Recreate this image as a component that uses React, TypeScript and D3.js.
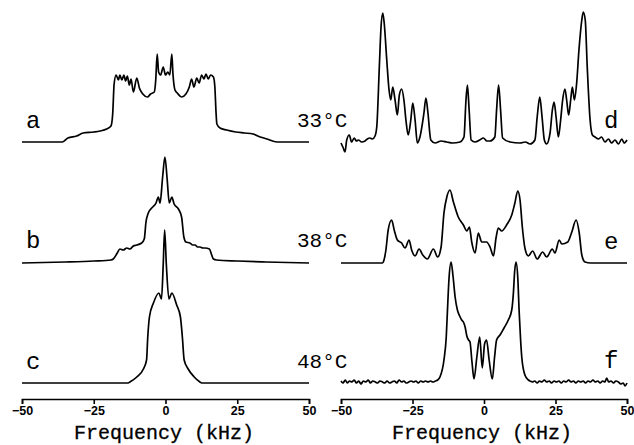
import React, { useRef, useEffect } from 'react';
import * as d3 from 'd3';

// frequency axis ticks (kHz)
const freqTicks = [-50, -25, 0, 25, 50];
const leftLabels = ['a', 'b', 'c'];
const rightLabels = ['d', 'e', 'f'];
const temps = ['33°C', '38°C', '48°C'];

// spectra as [kHz, intensity]
const specA: [number, number][] = [
  [-50, 0], [-36, 0], [-34, 4], [-31, 6], [-28.7, 9], [-25, 10], [-22.8, 11], [-20.5, 13], [-19, 16],
  [-18.4, 28], [-17.9, 58], [-17.2, 67], [-16.4, 62], [-15.9, 67], [-15.2, 62], [-14.5, 67], [-13.9, 61],
  [-13.3, 66], [-12.6, 57], [-12.0, 63], [-11.2, 50], [-10.0, 64], [-9.1, 54], [-7.9, 48], [-6.3, 45],
  [-5.2, 48], [-3.9, 50], [-3.4, 62], [-2.9, 88], [-2.4, 70], [-1.7, 67], [-0.8, 75], [0, 67], [0.8, 70],
  [1.5, 67], [2.2, 88], [2.6, 68], [3.3, 52], [4.1, 49], [5.6, 45], [7.1, 48], [8.3, 55], [9.1, 63],
  [9.9, 55], [10.9, 64], [11.7, 59], [12.6, 67], [13.4, 63], [14.1, 68], [14.9, 63], [15.7, 67], [16.7, 65],
  [17.2, 55], [17.6, 30], [17.9, 18], [19, 14], [21.3, 12], [24.5, 10], [27.5, 9], [30.5, 8], [33, 5],
  [35.4, 3], [38.8, 0], [50, 0]
];

const specB: [number, number][] = [
  [-50, -1], [-35, 0], [-25, 1], [-19, 2], [-18.2, 3], [-16.8, 9], [-15.9, 13], [-14.7, 12], [-13.5, 14],
  [-12.4, 13], [-11.2, 16], [-10, 17], [-8.3, 19], [-7.4, 23], [-6.8, 40], [-6, 49], [-4.8, 54], [-3.3, 59],
  [-2.5, 65], [-1.9, 59], [-1, 85], [-0.2, 105], [0.6, 82], [1.3, 59], [2.2, 65], [3, 58], [4.5, 53],
  [5.6, 45], [6.4, 25], [7.1, 20], [8.5, 19], [9.5, 17], [10.3, 17], [11.2, 15], [12, 15], [13, 14],
  [13.8, 14], [15.3, 13], [16.1, 7], [16.7, 3], [17.8, 2], [25, 1], [35, 0], [50, -1]
];

const specC: [number, number][] = [
  [-50, 0], [-13, 0], [-12.4, 1], [-10, 6], [-7.7, 14], [-6.6, 23], [-6.2, 45], [-5.6, 66], [-4.2, 80],
  [-2.3, 90], [-1.4, 84], [-0.8, 118], [-0.3, 153], [0.3, 118], [1.2, 84], [2.2, 90], [3.9, 78],
  [5.2, 66], [5.9, 45], [6.5, 23], [7.9, 14], [10, 6], [12, 1], [12.6, 0], [50, 0]
];

const specD: [number, number][] = [
  [-50, -1], [-49.2, -6], [-48.6, -10], [-48, 2], [-47.1, 7], [-46.3, 0], [-45.4, 4], [-44.6, 1],
  [-43.9, 2], [-42.8, 0], [-41.6, 1], [-40.8, 3], [-39.9, 4], [-39, 3], [-38.1, 6], [-37.5, 15],
  [-36.6, 75], [-36, 115], [-35.4, 129], [-34.9, 119], [-34, 82], [-33.2, 52], [-32.6, 42], [-31.9, 55],
  [-31.1, 42], [-30.3, 27], [-29.6, 47], [-28.8, 53], [-28, 42], [-27.3, 22], [-26.5, 7], [-25.6, 22],
  [-24.9, 39], [-24.1, 22], [-23.3, -1], [-22.4, 5], [-21, 29], [-20.3, 44], [-19.6, 29], [-18.6, 2],
  [-17.1, -1], [-15, 1], [-13, 0], [-11, -1], [-8.4, 0], [-7, 5], [-6.3, 42], [-5.8, 57], [-5.2, 32],
  [-4.5, 2], [-3.1, 0], [-1.5, 2], [-0.2, 4], [1, 1], [2.1, 1], [3.8, 5], [4.4, 32], [5.1, 57],
  [5.8, 32], [6.5, 4], [9.1, 0], [12.6, -1], [14.5, 0], [16.1, -2], [17.8, 2], [18.6, 25], [19.5, 45],
  [20.3, 25], [21.1, 2], [21.9, -2], [23.1, 9], [23.9, 32], [24.5, 40], [25.2, 25], [26, 5], [26.8, 22],
  [27.5, 42], [28.3, 53], [28.9, 42], [29.6, 27], [30.3, 42], [30.9, 55], [31.6, 42], [32.4, 59],
  [33.2, 92], [34.2, 122], [34.7, 130], [35.4, 122], [36.1, 75], [37.1, 22], [37.9, 7], [38.8, 5],
  [40, 3], [41.1, 5], [42.3, 0], [43.5, 3], [44.6, -1], [45.8, 2], [47, -2], [48.2, 3], [49, -1], [50, 2]
];

const specE: [number, number][] = [
  [-50, 0], [-40, 0], [-35.5, 0], [-35.2, 1], [-34.3, 13], [-33.5, 33], [-32.3, 43], [-31.4, 33],
  [-30.3, 23], [-28.8, 20], [-27.6, 15], [-26.2, 23], [-25.3, 13], [-24.1, 7], [-22.7, 14], [-21.4, 8],
  [-19.8, 4], [-17.7, 14], [-16.2, 6], [-15, 16], [-14, 50], [-13, 66], [-11.9, 73], [-10.7, 61],
  [-9, 46], [-7.2, 38], [-6, 32], [-5.1, 36], [-4.3, 21], [-3.1, 10], [-2, 30], [-0.8, 21], [0.9, 21],
  [2.1, 16], [3.3, 7], [4.2, 25], [5, 35], [6.2, 32], [7.9, 38], [9.7, 48], [10.8, 60], [11.8, 72],
  [12.6, 63], [13.4, 36], [14.3, 15], [15.5, 7], [17, 12], [18.6, 4], [20.5, 11], [21.9, 6], [23.9, 14],
  [24.8, 10], [26.3, 23], [27.2, 19], [29.3, 21], [30.7, 31], [32.2, 43], [33.3, 30], [34.2, 8],
  [35.3, 1], [37.3, 0], [50, 0]
];

const specF: [number, number][] = [
  [-50, 1], [-49.3, -1], [-48.5, 2], [-47.8, -1], [-47, 1], [-46.2, 0], [-45.4, 2], [-44.6, -1],
  [-43.8, 1], [-43, -2], [-42.2, 1], [-41.3, 0], [-40.5, 2], [-39.7, -1], [-38.9, 1], [-38, 0],
  [-37.2, -1], [-36.4, 1], [-35.5, 0], [-34.7, -1], [-33.9, 1], [-33, -1], [-32.2, 0], [-31.3, 1],
  [-30.5, -1], [-29.7, 2], [-28.8, 0], [-28, 1], [-27.2, -1], [-26.3, 0], [-25.5, 1], [-24.6, 0],
  [-23.8, 1], [-23, -1], [-22.1, 1], [-21.3, 0], [-20.4, 1], [-19.6, 0], [-18.7, 1], [-17.9, 0],
  [-17, 1], [-16.2, 2], [-15.4, 5], [-14, 22], [-13.2, 45], [-12.8, 70], [-12.2, 105], [-11.5, 120],
  [-10.8, 105], [-10.1, 85], [-9.3, 72], [-8.5, 66], [-7.8, 62], [-7.2, 60], [-6.6, 55], [-6, 46],
  [-5.4, 42], [-4.9, 40], [-4.2, 20], [-3.5, 3], [-2.5, 25], [-1.5, 45], [-0.6, 14], [0.2, 38],
  [0.9, 42], [1.8, 22], [2.9, 3], [3.7, 25], [4.4, 42], [5.6, 47], [7, 54], [8.5, 62], [9.7, 72],
  [10.3, 90], [10.7, 110], [11.2, 120], [11.8, 105], [12.3, 70], [12.8, 42], [13.2, 25], [14.3, 7],
  [15.5, 2], [16.1, 1], [16.9, 0], [17.7, 1], [18.6, -1], [19.4, 1], [20.2, 0], [21.1, 2], [21.9, 0],
  [22.8, 1], [23.6, -1], [24.5, 1], [25.3, 0], [26.2, 1], [27, -1], [27.9, 1], [28.7, 0], [29.6, 2],
  [30.4, 0], [31.3, 1], [32.1, -1], [33, 1], [33.8, 0], [34.7, 1], [35.5, -1], [36.4, 1], [37.2, 0],
  [38.1, 2], [38.9, 0], [39.8, 1], [40.6, -1], [41.5, 1], [42.3, 0], [42.9, 4], [43.6, 0], [44.4, 1],
  [45.3, -1], [46.1, 1], [47, 0], [47.8, -2], [48.7, -1], [49.3, -4], [50, -1]
];

const leftSpectra = [specA, specB, specC];
const rightSpectra = [specD, specE, specF];
const baselines = [142, 262, 383];
const rightBaselines = [142, 263, 382];

const W = 634;
const H = 445;
const axisY = 399;

const Axis = ({ scale }: { scale: d3.ScaleLinear<number, number> }) => {
  const gRef = useRef<SVGGElement>(null);
  useEffect(() => {
    const g = d3.select(gRef.current);
    g.call(d3.axisBottom(scale).tickValues(freqTicks).tickSizeOuter(0).tickSize(5).tickPadding(2)
      .tickFormat(d3.format('d')) as any);
    g.select('.domain').attr('stroke-width', 1.6);
    g.selectAll('.tick line').attr('stroke-width', 1.6);
    g.selectAll('.tick text')
      .attr('font-family', '"Liberation Sans", Arial, sans-serif')
      .attr('font-weight', 'bold')
      .attr('font-size', 12.5)
      .attr('fill', '#000');
  }, [scale]);
  return <g ref={gRef} transform={`translate(0,${axisY})`} />;
};

const Panel = ({ x0, x1, spectra, bases, titleX }: any) => {
  const x = d3.scaleLinear().domain([-50, 50]).range([x0, x1]);
  return (
    <g>
      {spectra.map((s: [number, number][], i: number) => {
        const y = d3.scaleLinear().domain([0, 100]).range([bases[i], bases[i] - 100]);
        const line = d3.line<[number, number]>()
          .x(d => x(d[0]))
          .y(d => y(d[1]))
          .curve(d3.curveMonotoneX);
        return <path key={i} d={line(s) || ''} fill="none" stroke="#000" strokeWidth={1.7} strokeLinejoin="round" />;
      })}
      <Axis scale={x} />
      <text x={titleX} y={439} textAnchor="middle" fontFamily='"Liberation Mono", "Courier New", monospace'
        fontSize={20} stroke="#000" strokeWidth={0.3}>Frequency (kHz)</text>
    </g>
  );
};

export default function App() {
  const labelFont = '"Liberation Mono", "Courier New", monospace';
  return (
    <svg width={W} height={H} style={{ position: 'absolute', left: 0, top: 0, background: '#fff' }}>
      <Panel x0={22} x1={309} spectra={leftSpectra} bases={baselines} titleX={164} />
      <Panel x0={341} x1={627} spectra={rightSpectra} bases={rightBaselines} titleX={482} />
      {leftLabels.map((l, i) => (
        <text key={l} x={26} y={baselines[i] - 14} fontFamily={labelFont} fontSize={24}>{l}</text>
      ))}
      {rightLabels.map((l, i) => (
        <text key={l} x={604} y={rightBaselines[i] - 14} fontFamily={labelFont} fontSize={24}>{l}</text>
      ))}
      {temps.map((t, i) => (
        <text key={t} x={297} y={baselines[i] - 15} fontFamily={labelFont} fontSize={21}>{t}</text>
      ))}
    </svg>
  );
}
